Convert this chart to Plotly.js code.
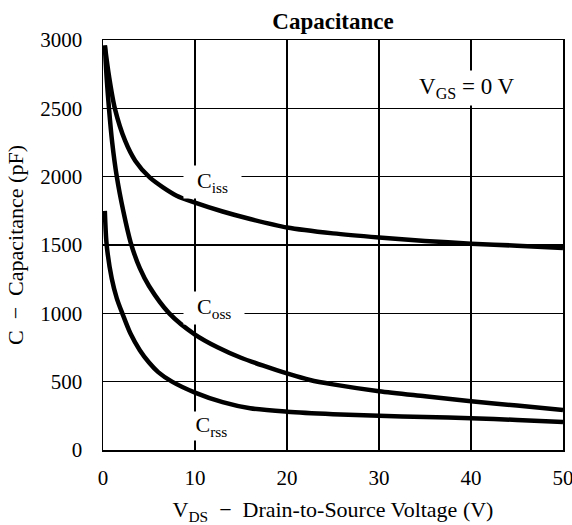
<!DOCTYPE html>
<html>
<head>
<meta charset="utf-8">
<script src="https://cdn.plot.ly/plotly-3.0.1.min.js"></script>
<style>html,body{margin:0;padding:0;background:#fff;}#chart{width:572px;height:525px;}</style>
</head>
<body>
<div id="chart"></div>
<script>
// Data
const cissV = [0.2, 0.65, 1.3, 2.4, 3.5, 5.1, 8, 10, 13, 16, 20, 25, 30, 35, 40, 45, 50];
const cissC = [2960, 2737, 2496, 2263, 2117, 1993, 1861, 1810, 1745, 1690, 1628, 1585, 1555, 1530, 1510, 1495, 1478];

const cossV = [0.2, 0.4, 0.65, 1.0, 1.5, 2.2, 3, 4, 5, 7.2, 10, 12.5, 15, 17.5, 20, 22.5, 25, 30, 35, 40, 45, 50];
const cossC = [2960, 2720, 2500, 2250, 2000, 1750, 1520, 1330, 1200, 1000, 845, 750, 675, 615, 560, 512, 480, 430, 393, 357, 325, 292];

const crssV = [0.2, 0.4, 0.95, 1.5, 2.1, 3, 4, 5, 6, 7.5, 10, 13, 16, 20, 25, 30, 35, 40, 45, 50];
const crssC = [1750, 1500, 1255, 1110, 1000, 850, 730, 640, 570, 500, 420, 350, 305, 280, 262, 250, 242, 233, 220, 205];

const xTicks = [0, 10, 20, 30, 40, 50];
const yTicks = [0, 500, 1000, 1500, 2000, 2500, 3000];

const serif = "'Liberation Serif', 'DejaVu Serif', serif";
const lineStyle = {color: "#000", width: 4.5, shape: "spline", smoothing: 0.8};

const traces = [
  {x: cissV, y: cissC, mode: "lines", line: lineStyle, name: "Ciss", hoverinfo: "none"},
  {x: cossV, y: cossC, mode: "lines", line: lineStyle, name: "Coss", hoverinfo: "none"},
  {x: crssV, y: crssC, mode: "lines", line: lineStyle, name: "Crss", hoverinfo: "none"}
];

const nb = "\u00a0";
const labelFont = {family: serif, size: 22, color: "#000"};
function lab(text, x, y, xshift, yshift, pad) {
  return {x: x, y: y, xref: "x", yref: "y", text: text, showarrow: false,
    xanchor: "left", yanchor: "middle", xshift: xshift, yshift: yshift,
    bgcolor: "#fff", borderpad: pad, font: labelFont};
}

const layout = {
  width: 572, height: 525,
  margin: {l: 103, r: 9, t: 40, b: 75},
  paper_bgcolor: "#fff", plot_bgcolor: "#fff",
  showlegend: false,
  font: {family: serif, color: "#000", size: 21},
  title: {text: "<b>Capacitance</b>", font: {family: serif, size: 23, color: "#000"},
    x: 0.5, xref: "paper", xanchor: "center", y: 1 - 21/525, yref: "container", yanchor: "middle"},
  xaxis: {
    range: [0, 50], tickvals: xTicks, ticktext: xTicks.map(String),
    showgrid: true, gridcolor: "#000", gridwidth: 1.2, zeroline: false,
    showline: true, linecolor: "#000", linewidth: 1.5, mirror: true,
    ticks: "outside", ticklen: 8, tickcolor: "rgba(0,0,0,0)",
    ticklabeloverflow: "allow",
    tickfont: {family: serif, size: 21, color: "#000"},
    title: {text: "V<sub>DS</sub>" + nb + nb + "\u2212" + nb + nb + "Drain-to-Source Voltage (V)",
      font: {family: serif, size: 22, color: "#000"}, standoff: 20},
    fixedrange: true
  },
  yaxis: {
    range: [0, 3000], tickvals: yTicks, ticktext: yTicks.map(String),
    showgrid: true, gridcolor: "#000", gridwidth: 1.2, zeroline: false,
    showline: true, linecolor: "#000", linewidth: 1.5, mirror: true,
    ticks: "outside", ticklen: 15, tickcolor: "rgba(0,0,0,0)",
    ticklabeloverflow: "allow",
    tickfont: {family: serif, size: 21, color: "#000"},
    title: {text: "C" + nb + nb + "\u2212" + nb + nb + "Capacitance (pF)",
      font: {family: serif, size: 22, color: "#000"}, standoff: 10},
    fixedrange: true
  },
  annotations: [
    lab(nb + nb + "C<sub>iss</sub>" + nb + nb, 10, 1960, -12, 0, 2),
    lab(nb + nb + "C<sub>oss</sub>" + nb + nb, 10, 1040, -12, 0, 2),
    lab(nb + "C<sub>rss</sub>" + nb, 10, 178, -6, 0, 0),
    {x: 39.6, y: 2650, xref: "x", yref: "y", text: "V<sub>GS</sub> = 0 V", showarrow: false,
      xanchor: "center", yanchor: "middle", bgcolor: "#fff", borderpad: 3,
      font: {family: serif, size: 23, color: "#000"}}
  ]
};

Plotly.newPlot("chart", traces, layout, {staticPlot: true, displayModeBar: false});
</script>
</body>
</html>
